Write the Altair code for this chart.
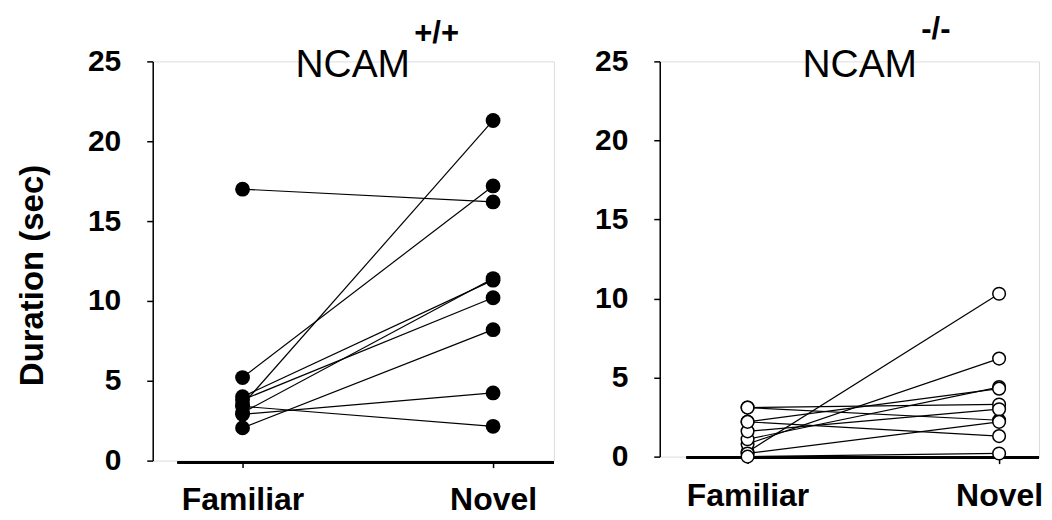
import altair as alt
import pandas as pd

# ---- data ----
phases = ["Familiar", "Novel"]
wt_familiar = [17.0, 3.5, 5.2, 4.0, 3.0, 3.8, 2.05, 2.9, 3.4]
wt_novel = [16.2, 21.3, 17.2, 11.3, 11.4, 10.2, 8.2, 4.24, 2.15]
ko_familiar = [0.3, 0.8, 1.1, 2.2, 3.1, 3.1, 1.6, 2.2, 0.2, 0.0]
ko_novel = [10.3, 6.2, 4.4, 4.3, 3.3, 2.3, 3.0, 1.3, 2.2, 0.2]
y_ticks = [0, 5, 10, 15, 20, 25]
titles = ["NCAM", "NCAM"]
supers = ["+/+", "-/-"]

FONT = "Liberation Sans"


def long_df(fam, nov):
    rows = []
    for i, (f, n) in enumerate(zip(fam, nov)):
        rows.append({"subject": i, "phase": 0, "value": f})
        rows.append({"subject": i, "phase": 1, "value": n})
    return pd.DataFrame(rows)


label_expr = "datum.value == 0 ? '%s' : '%s'" % (phases[0], phases[1])


def panel(df, width, height, xdom, filled, show_title, title, sup, rule_x1, rule_y):
    x = alt.X(
        "phase:Q",
        scale=alt.Scale(domain=xdom, nice=False, zero=False),
        axis=alt.Axis(
            values=[0, 1], labelExpr=label_expr, domain=False, grid=False,
            tickSize=7, tickWidth=1.5, tickColor="black",
            labelFontSize=32, labelFont=FONT, labelFontWeight="bold",
            labelColor="black", labelPadding=17, title=None,
        ),
    )
    yaxis_kw = dict(
        values=y_ticks, grid=False, domainColor="black", domainWidth=1.5,
        tickColor="black", tickWidth=1.5, tickSize=6,
        labelFontSize=30, labelFont=FONT, labelFontWeight="bold",
        labelColor="black", labelPadding=26,
    )
    if show_title:
        yaxis_kw.update(
            title="Duration (sec)", titleFont=FONT, titleFontSize=33,
            titleFontWeight="bold", titleColor="black", titlePadding=38,
            titleY=214,
        )
    else:
        yaxis_kw.update(title=None)
    y = alt.Y(
        "value:Q",
        scale=alt.Scale(domain=[0, 25], nice=False),
        axis=alt.Axis(**yaxis_kw),
    )
    base = alt.Chart(df)
    lines = base.mark_line(color="black", strokeWidth=1.2).encode(
        x=x, y=y, detail="subject:N"
    )
    if filled:
        pts = base.mark_point(filled=True, color="black", size=220, opacity=1).encode(x=x, y=y)
    else:
        pts = base.mark_point(filled=True, fill="white", stroke="black",
                              strokeWidth=1.5, size=160, opacity=1).encode(x=x, y=y)
    rule = base.mark_rule(color="black", strokeWidth=1.5).encode(
        x=alt.value(rule_x1), x2=alt.value(width), y=alt.value(rule_y)
    )
    t1 = alt.Chart(pd.DataFrame({"t": [title]})).mark_text(
        align="left", baseline="alphabetic", font=FONT, fontSize=39, color="black"
    ).encode(x=alt.value(143), y=alt.value(16), text="t:N")
    t2 = alt.Chart(pd.DataFrame({"t": [sup]})).mark_text(
        align="left", baseline="alphabetic", font=FONT, fontSize=31,
        fontWeight="bold", color="black"
    ).encode(x=alt.value(262), y=alt.value(-18 if filled else -22), text="t:N")
    return alt.layer(rule, lines, pts, t1, t2).properties(width=width, height=height)


left = panel(long_df(wt_familiar, wt_novel), 402, 400, [-0.3586, 1.2430],
             True, True, titles[0], supers[0], 25, 402)
right = panel(long_df(ko_familiar, ko_novel), 380, 396, [-0.3492, 1.1587],
              False, False, titles[1], supers[1], 27, 397)

chart = alt.hconcat(left, right, spacing=106, bounds="flush").properties(
    padding={"left": 8, "top": 5, "right": 0, "bottom": 0}
).configure_view(stroke=None).configure(background="white")

chart.save("out.html", embed_options={"renderer": "svg", "actions": False})
